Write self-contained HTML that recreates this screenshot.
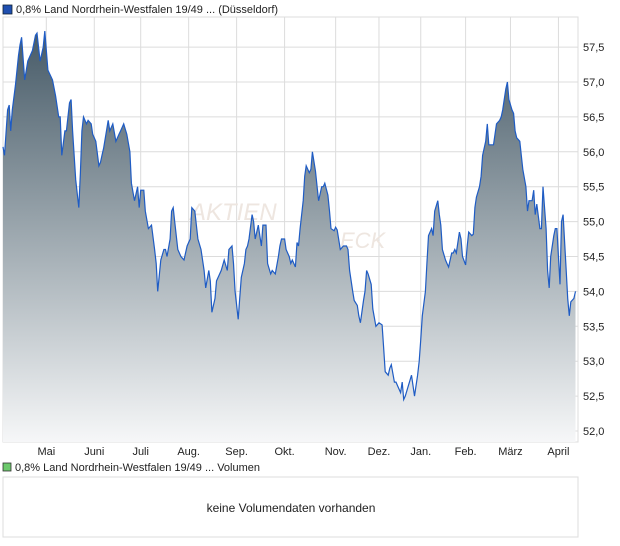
<!DOCTYPE html>
<html><head><meta charset="utf-8"><style>
body{margin:0;background:#fff;font-family:"Liberation Sans",sans-serif;}
#wrap{position:relative;width:620px;height:546px;overflow:hidden}
</style></head><body><div id="wrap">
<svg id="svg" width="620" height="546" xmlns="http://www.w3.org/2000/svg">
<defs><linearGradient id="g" x1="0" y1="0" x2="0" y2="1">
<stop offset="0" stop-color="#465a67"/><stop offset="0.5" stop-color="#9ea9b0"/><stop offset="1" stop-color="#f6f7f8"/></linearGradient></defs>
<rect x="3" y="5" width="9" height="9" fill="#1f4fb0" stroke="#123" stroke-width="0.8"/>
<text x="16" y="13" font-size="11" fill="#222">0,8% Land Nordrhein-Westfalen 19/49 ... (Düsseldorf)</text>
<rect x="3" y="17" width="575" height="425" fill="#fff" stroke="#ddd"/>
<g id="grid"></g>
<text x="190" y="220" font-size="24" font-style="italic" fill="#eee6e0">AKTIEN</text>
<text x="340" y="248" font-size="22" font-style="italic" fill="#eee6e0">ECK</text>
<g id="series"></g>
<g id="labels"></g>
<rect x="3" y="463" width="8" height="8" fill="#6cc96c" stroke="#333" stroke-width="0.8"/>
<text x="15" y="471" font-size="11" fill="#222">0,8% Land Nordrhein-Westfalen 19/49 ... Volumen</text>
<rect x="3" y="477" width="575" height="60" fill="#fff" stroke="#ddd"/>
<text x="291" y="512" font-size="12" fill="#222" text-anchor="middle">keine Volumendaten vorhanden</text>
</svg></div>
<script>
const days=[0,1,3,4,5,6,8,10,11,12,14,16,19,21,22,24,26,27,29,32,34,36,37,38,40,41,43,44,45,47,49,50,51,52,54,55,57,58,60,62,63,64,65,68,69,71,73,75,76,78,80,82,83,85,87,88,89,91,92,94,96,98,99,100,102,104,105,106,108,109,110,111,113,115,117,119,121,122,124,126,128,130,131,133,134,135,137,138,139,141,143,145,146,148,149,150,152,153,154,156,157,158,159,161,162,163,165,166,167,168,170,171,173,174,176,178,179,180,182,183,185,186,187,189,190,191,192,194,195,196,198,199,200,202,203,204,206,207,208,210,211,212,214,215,216,218,220,222,223,224,226,227,229,230,231,233,234,235,236,238,239,241,243,245,246,247,249,250,251,253,254,255,257,258,259,260,262,264,265,266,268,269,270,271,273,274,275,277,278,279,281,282,283,284,286,287,288,290,291,292,293,295,296,297,299,300,301,303,304,305,306,308,309,310,312,313,314,316,317,318,319,321,322,323,325,326,327,329,330,331,332,334,335,336,338,339,340,342,343,344,345,347,348,349,351,352,353,354,356,357,358,360,361,362,364,365,366,367,369,370,371];
const prices=[56.07,55.95,56.6,56.67,56.3,56.6,56.95,57.38,57.53,57.64,57.03,57.3,57.45,57.67,57.7,57.3,57.5,57.73,57.17,57.03,56.8,56.5,56.5,55.95,56.3,56.3,56.7,56.75,56.3,55.6,55.2,55.7,56.3,56.5,56.4,56.45,56.4,56.25,56.15,55.8,55.85,55.95,56.05,56.45,56.3,56.4,56.15,56.25,56.3,56.4,56.25,56.0,55.55,55.3,55.5,55.2,55.45,55.45,55.15,54.9,54.95,54.6,54.4,54.0,54.45,54.6,54.6,54.5,54.75,55.15,55.2,55.0,54.6,54.5,54.45,54.65,54.75,55.2,55.15,54.75,54.6,54.3,54.05,54.3,54.15,53.7,53.9,54.15,54.2,54.3,54.45,54.3,54.6,54.65,54.4,54.0,53.6,53.9,54.2,54.4,54.6,54.65,54.75,55.1,55.0,54.75,54.95,54.8,54.65,54.95,54.95,54.4,54.25,54.3,54.25,54.5,54.65,54.75,54.75,54.6,54.5,54.4,54.45,54.35,54.7,54.65,54.9,55.3,55.65,55.8,55.7,55.75,56.0,55.72,55.5,55.3,55.5,55.5,55.55,55.38,55.15,54.9,54.87,54.92,54.88,54.6,54.65,54.65,54.6,54.3,54.0,53.87,53.8,53.65,53.55,53.87,54.0,54.3,54.25,54.1,53.75,53.5,53.55,53.52,53.2,52.85,52.8,52.9,52.95,52.7,52.7,52.65,52.55,52.7,52.45,52.5,52.65,52.8,52.65,52.5,52.8,53.0,53.3,53.65,54.0,54.4,54.8,54.9,54.8,55.15,55.3,55.1,54.95,54.6,54.45,54.4,54.35,54.55,54.55,54.6,54.55,54.85,54.75,54.5,54.38,54.65,54.85,54.8,54.82,55.2,55.35,55.5,55.65,55.95,56.15,56.4,56.1,56.1,56.1,56.25,56.4,56.45,56.5,56.6,56.9,57.0,56.75,56.6,56.55,56.3,56.2,56.15,55.95,55.75,55.5,55.15,55.3,55.3,55.45,55.1,55.25,54.9,54.9,55.5,54.9,54.3,54.05,54.5,54.8,54.9,54.9,54.1,55.0,55.1,54.3,53.9,53.65,53.85,53.9,54.0];
const yTicks=[52.0,52.5,53.0,53.5,54.0,54.5,55.0,55.5,56.0,56.5,57.0,57.5];
const months=["Mai","Juni","Juli","Aug.","Sep.","Okt.","Nov.","Dez.","Jan.","Feb.","März","April"];
const monthDays=[28,59,89,120,151,182,215,243,270,299,328,359];
const X0=3,BOT=442,TOTAL=371;
const xs=d=>X0+d*574/TOTAL;
const ys=v=>82+(57-v)*69.8;
const NS="http://www.w3.org/2000/svg";
const grid=document.getElementById('grid'),lab=document.getElementById('labels'),ser=document.getElementById('series');
function mk(t,a){const e=document.createElementNS(NS,t);for(const k in a)e.setAttribute(k,a[k]);return e;}
yTicks.forEach(v=>{const y=ys(v);
 const l=mk('line',{x1:X0,x2:578,y1:y,y2:y,stroke:'#dcdcdc'});
 
 grid.appendChild(l);
 const t=mk('text',{x:583,y:y+4,'font-size':11,fill:'#222'});t.textContent=v.toFixed(1).replace('.',',');
 
 lab.appendChild(t);});
months.forEach((m,k)=>{const x=xs(monthDays[k]);
 const l=mk('line',{x1:x,x2:x,y1:17,y2:BOT,stroke:'#dcdcdc'});
 
 grid.appendChild(l);
 const t=mk('text',{x:x,y:455,'font-size':11,fill:'#222','text-anchor':'middle'});t.textContent=m;
 
 lab.appendChild(t);});
const n=Math.min(days.length,prices.length);
let d='';for(let i=0;i<n;i++){d+=(i?'L':'M')+xs(days[i]).toFixed(1)+','+ys(prices[i]).toFixed(1);}
const area=mk('path',{d:d+'L'+xs(days[n-1]).toFixed(1)+','+BOT+'L'+X0+','+BOT+'Z',fill:'url(#g)'});

ser.appendChild(area);
const line=mk('path',{d:d,fill:'none',stroke:'#1f5cc4','stroke-width':1.2});

ser.appendChild(line);
</script></body></html>
